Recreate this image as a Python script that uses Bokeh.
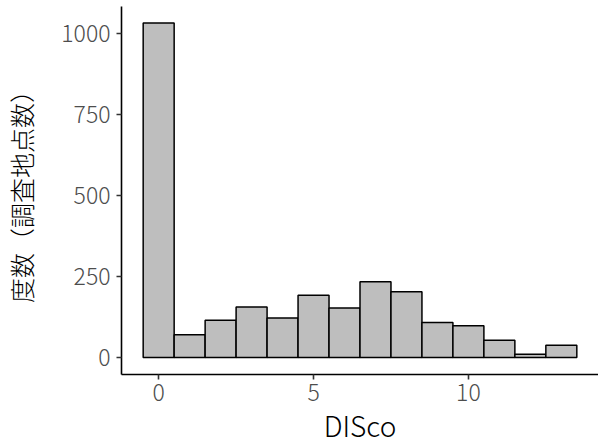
from bokeh.plotting import figure
from bokeh.models import Range1d, FixedTicker
from bokeh.embed import file_html
from bokeh.resources import INLINE

# DISco bins (centres) and counts (number of survey sites)
bins = [0, 1, 2, 3, 4, 5, 6, 7, 8, 9, 10, 11, 12, 13]
counts = [1032, 70, 115, 156, 122, 192, 153, 234, 203, 108, 98, 53, 10, 38]
x_ticks = [0, 5, 10]
y_ticks = [0, 250, 500, 750, 1000]
x_title = "DISco"
y_title = "度数（調査地点数）"

FONT = "Noto Sans CJK JP Light"

p = figure(width=598, height=447, output_backend="svg", toolbar_location=None,
           x_range=Range1d(-1.2, 14.2), y_range=Range1d(-52.3, 1083),
           min_border_left=120, min_border_right=0, min_border_top=6,
           min_border_bottom=72)
p.outline_line_color = None
p.xgrid.grid_line_color = None
p.ygrid.grid_line_color = None
p.background_fill_color = "white"
p.border_fill_color = "white"

p.vbar(x=bins, top=counts, width=1.0, bottom=0,
       fill_color="#BEBEBE", line_color="black", line_width=1.5)

for ax in (p.xaxis[0], p.yaxis[0]):
    ax.axis_line_color = "black"
    ax.axis_line_width = 1.6
    ax.major_tick_line_color = "#333333"
    ax.major_tick_line_width = 1.6
    ax.major_tick_out = 5
    ax.major_tick_in = 0
    ax.minor_tick_line_color = None
    ax.major_label_text_font = FONT
    ax.major_label_text_font_size = "23px"
    ax.major_label_text_color = "#4D4D4D"
    ax.axis_label_text_font = FONT
    ax.axis_label_text_font_style = "normal"
    ax.axis_label_text_color = "black"

p.xaxis[0].axis_label_text_font_size = "28px"
p.yaxis[0].axis_label_text_font_size = "25px"
p.xaxis[0].ticker = FixedTicker(ticks=x_ticks)
p.yaxis[0].ticker = FixedTicker(ticks=y_ticks)
p.xaxis[0].axis_label = x_title
p.yaxis[0].axis_label = y_title
p.xaxis[0].major_label_standoff = 4
p.yaxis[0].major_label_standoff = 6
p.xaxis[0].axis_label_standoff = 1
p.yaxis[0].axis_label_standoff = 19

open("out.html", "w").write(file_html(p, INLINE))
